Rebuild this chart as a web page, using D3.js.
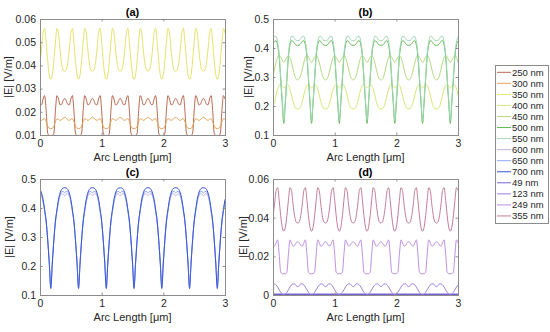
<!DOCTYPE html>
<html>
<head>
<meta charset="utf-8">
<script src="https://cdn.jsdelivr.net/npm/d3@7"></script>
<style>
  body { margin: 0; background: #fff; }
  svg { font-family: "Liberation Sans", Arial, sans-serif; }
</style>
</head>
<body>
<script>
// arc length sampling: one grating period (0.45 um) = 18 samples of 0.025 um
const arcStep = 0.025;
const arcMax = 3;

const labels = ["250 nm", "300 nm", "350 nm", "400 nm", "450 nm", "500 nm", "550 nm",
  "600 nm", "650 nm", "700 nm", "49 nm", "123 nm", "249 nm", "355 nm"];
const colors = ["#b8694f", "#e0a453", "#e6e26c", "#d9e67a", "#b3d97f", "#62b954", "#9fd8b4",
  "#c6b4ea", "#8aa6ef", "#3756d6", "#7564cf", "#9f80df", "#bd8ee2", "#c27c9a"];

// |E| over one period, starting at arc length 0
const e250 = [0.0232, 0.023, 0.0255, 0.027, 0.0205, 0.0108, 0.0098, 0.0098, 0.0098, 0.0108, 0.0205, 0.027, 0.0255, 0.023, 0.0232, 0.0248, 0.0258, 0.0248];
const e300 = [0.0166, 0.0163, 0.0168, 0.0170, 0.0158, 0.0138, 0.0129, 0.0128, 0.0129, 0.0138, 0.0158, 0.0170, 0.0168, 0.0163, 0.0166, 0.0173, 0.0176, 0.0173];
const e350 = [0.041, 0.047, 0.054, 0.056, 0.050, 0.042, 0.036, 0.034, 0.036, 0.042, 0.050, 0.056, 0.054, 0.047, 0.041, 0.038, 0.0375, 0.038];
const e400 = [0.198, 0.215, 0.238, 0.258, 0.272, 0.275, 0.268, 0.262, 0.268, 0.275, 0.272, 0.258, 0.238, 0.215, 0.198, 0.191, 0.19, 0.191];
const e450 = [0.306, 0.327, 0.35, 0.368, 0.374, 0.368, 0.358, 0.35, 0.358, 0.368, 0.374, 0.368, 0.35, 0.327, 0.306, 0.293, 0.29, 0.293];
const e500 = [0.415, 0.423, 0.425, 0.41, 0.37, 0.29, 0.21, 0.14, 0.21, 0.29, 0.37, 0.41, 0.425, 0.423, 0.415, 0.41, 0.409, 0.41];
const e550 = [0.432, 0.44, 0.44, 0.42, 0.38, 0.30, 0.22, 0.15, 0.22, 0.30, 0.38, 0.42, 0.44, 0.44, 0.432, 0.426, 0.425, 0.426];
const e600 = [0.449, 0.44, 0.42, 0.388, 0.35, 0.292, 0.215, 0.135, 0.215, 0.292, 0.35, 0.388, 0.42, 0.44, 0.449, 0.448, 0.442, 0.448];
const e650 = [0.456, 0.445, 0.423, 0.39, 0.352, 0.29, 0.212, 0.128, 0.212, 0.29, 0.352, 0.39, 0.423, 0.445, 0.456, 0.457, 0.452, 0.457];
const e700 = [0.464, 0.452, 0.43, 0.395, 0.355, 0.29, 0.21, 0.122, 0.21, 0.29, 0.355, 0.395, 0.43, 0.452, 0.464, 0.469, 0.47, 0.469];
const e49  = [0.0002, 0.0002, 0.0002, 0.0002, 0.0002, 0.0002, 0.0002, 0.0002, 0.0002, 0.0002, 0.0002, 0.0002, 0.0002, 0.0002, 0.0002, 0.0002, 0.0002, 0.0002];
const e123 = [0.0058, 0.0057, 0.0052, 0.0041, 0.0027, 0.0014, 0.0005, 0.0001, 0.0005, 0.0014, 0.0027, 0.0041, 0.0052, 0.0057, 0.0058, 0.0048, 0.0043, 0.0048];
const e249 = [0.0256, 0.0253, 0.027, 0.0285, 0.021, 0.0118, 0.011, 0.011, 0.011, 0.0118, 0.021, 0.0285, 0.027, 0.0253, 0.0256, 0.027, 0.0275, 0.027];
const e355 = [0.041, 0.047, 0.054, 0.0555, 0.049, 0.041, 0.035, 0.033, 0.035, 0.041, 0.049, 0.0555, 0.054, 0.047, 0.041, 0.0378, 0.0372, 0.0378];

const profiles = [e250, e300, e350, e400, e450, e500, e550, e600, e650, e700, e49, e123, e249, e355];

const xTicks = [0, 1, 2, 3];
const yTicksA = [0.01, 0.02, 0.03, 0.04, 0.05, 0.06];
const yTicksB = [0.1, 0.2, 0.3, 0.4, 0.5];
const yTicksD = [0, 0.02, 0.04, 0.06];

const width = 550, height = 332;
const plotW = 185, plotH = 116;

const panels = [
  { title: "(a)", left: 40,  top: 19,  domain: [0.01, 0.06], ticks: yTicksA, fmt: ".2f", series: [0, 1, 2], labelX: 8 },
  { title: "(b)", left: 273, top: 19,  domain: [0.1, 0.5],   ticks: yTicksB, fmt: ".1f", series: [3, 4, 5, 6], labelX: 248 },
  { title: "(c)", left: 40,  top: 179, domain: [0.1, 0.5],   ticks: yTicksB, fmt: ".1f", series: [7, 8, 9], labelX: 9 },
  { title: "(d)", left: 273, top: 179, domain: [0, 0.06],    ticks: yTicksD, fmt: ".2f", series: [10, 11, 12, 13], labelX: 243 }
];

// repeat the measured period along the arc
function seriesOf(profile) {
  const pts = [];
  const n = Math.round(arcMax / arcStep);
  for (let i = 0; i <= n; i++) {
    pts.push({ x: i * arcStep, y: profile[i % profile.length] });
  }
  return pts;
}

const svg = d3.select("body").append("svg")
  .attr("width", width)
  .attr("height", height);

const defs = svg.append("defs");

panels.forEach((p, pi) => {
  const x = d3.scaleLinear().domain([0, arcMax]).range([0, plotW]);
  const y = d3.scaleLinear().domain(p.domain).range([plotH, 0]);

  const g = svg.append("g").attr("transform", `translate(${p.left},${p.top})`);

  defs.append("clipPath").attr("id", "clip" + pi)
    .append("rect").attr("width", plotW).attr("height", plotH);

  const line = d3.line()
    .x(d => x(d.x))
    .y(d => y(d.y))
    .curve(d3.curveMonotoneX);

  const curves = g.append("g").attr("clip-path", `url(#clip${pi})`);
  p.series.forEach(si => {
    curves.append("path")
      .datum(seriesOf(profiles[si]))
      .attr("fill", "none")
      .attr("stroke", colors[si])
      .attr("stroke-width", si === 10 ? 2 : 1)
      .attr("d", line);
  });

  // axes, MATLAB style: ticks inside on all four sides
  const bottom = g.append("g").attr("transform", `translate(0,${plotH})`)
    .call(d3.axisBottom(x).tickValues(xTicks).tickSize(-2.5).tickPadding(5).tickFormat(d3.format("d")));
  const top = g.append("g")
    .call(d3.axisTop(x).tickValues(xTicks).tickSize(-2.5).tickFormat(""));
  const left = g.append("g")
    .call(d3.axisLeft(y).tickValues(p.ticks).tickSize(-2.5).tickPadding(4).tickFormat(d => d === 0 ? "0" : d3.format(p.fmt)(d)));
  const right = g.append("g").attr("transform", `translate(${plotW},0)`)
    .call(d3.axisRight(y).tickValues(p.ticks).tickSize(-2.5).tickFormat(""));

  [bottom, top, left, right].forEach(a => {
    a.select(".domain").remove();
    a.selectAll(".tick line").attr("stroke", "#8c8c8c");
    a.selectAll("text").attr("fill", "#262626").style("font-size", "10.5px");
  });

  g.append("rect")
    .attr("width", plotW).attr("height", plotH)
    .attr("fill", "none").attr("stroke", "#8c8c8c").attr("stroke-width", 1)
    .attr("shape-rendering", "crispEdges");

  g.append("text")
    .attr("x", plotW / 2).attr("y", -3)
    .attr("text-anchor", "middle")
    .style("font-size", "11px").style("font-weight", "bold")
    .attr("fill", "#000")
    .text(p.title);

  g.append("text")
    .attr("x", plotW / 2).attr("y", plotH + 26)
    .attr("text-anchor", "middle")
    .style("font-size", "11px")
    .attr("fill", "#262626")
    .text("Arc Length [μm]");

  svg.append("text")
    .attr("transform", `translate(${p.labelX},${p.top + plotH / 2}) rotate(-90)`)
    .attr("text-anchor", "middle")
    .attr("dy", "0.35em")
    .style("font-size", "11px")
    .attr("fill", "#262626")
    .text("|E| [V/m]");
});

// legend
const legend = svg.append("g").attr("transform", "translate(495,65)");
legend.append("rect")
  .attr("width", 53).attr("height", 158)
  .attr("fill", "#fff").attr("stroke", "#8c8c8c")
  .attr("shape-rendering", "crispEdges");

const rowH = 11.05;
labels.forEach((lab, i) => {
  const yy = 7.3 + i * rowH;
  legend.append("line")
    .attr("x1", 2).attr("x2", 16).attr("y1", yy).attr("y2", yy)
    .attr("stroke", colors[i]).attr("stroke-width", 1);
  legend.append("text")
    .attr("x", 17).attr("y", yy).attr("dy", "0.35em")
    .style("font-size", "9.5px")
    .attr("fill", "#262626")
    .text(lab);
});
</script>
</body>
</html>
